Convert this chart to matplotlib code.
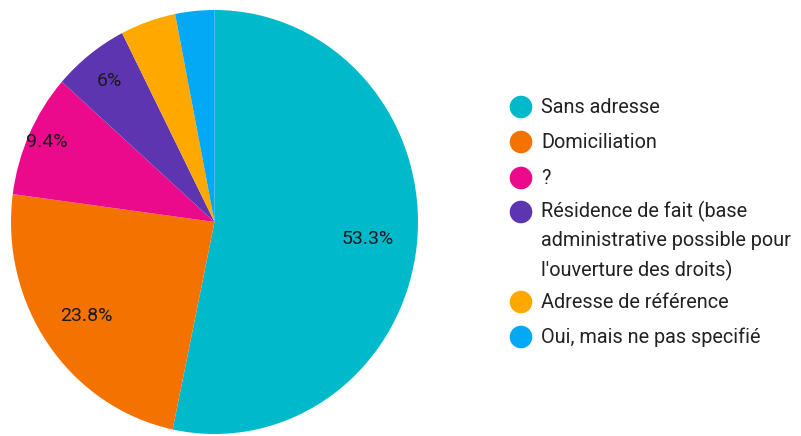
import numpy as np
import matplotlib
matplotlib.use("Agg")
import matplotlib.pyplot as plt

categories = ["Sans adresse", "Domiciliation", "?",
              "Résidence de fait (base\nadministrative possible pour\nl'ouverture des droits)",
              "Adresse de référence", "Oui, mais ne pas specifié"]
values = [53.3, 23.8, 9.4, 6.0, 4.4, 3.1]
colors = ["#00b9cb", "#f47200", "#ec0a8c", "#5e35b1", "#ffa800", "#03a9f4"]

W, H = 801, 436
fig = plt.figure(figsize=(W / 100, H / 100), dpi=100)
plt.rcParams['font.family'] = ['Roboto', 'DejaVu Sans']

# pie axes (pixel box)
cx, cy, rx, ry = 214.5, 222, 203.5, 212
ax = fig.add_axes([(cx - rx) / W, (H - cy - ry) / H, 2 * rx / W, 2 * ry / H])
wedges, _ = ax.pie(values, colors=colors, startangle=90, counterclock=False,
                   radius=1.0, wedgeprops=dict(linewidth=0))
ax.set_aspect('auto')
ax.set_xlim(-1, 1)
ax.set_ylim(-1, 1)
ax.axis('off')

label_r = [0.755, 0.77, 0.905, 0.84]
for i, (w, v) in enumerate(zip(wedges, values)):
    if v < 5:
        continue
    ang = np.deg2rad((w.theta1 + w.theta2) / 2)
    r = label_r[i]
    txt = f"{v:g}%"
    ax.text(r * np.cos(ang), r * np.sin(ang), txt, ha='center', va='center',
            fontsize=14, color='#1a1a1a')

# legend overlay
lg = fig.add_axes([0, 0, 1, 1])
lg.set_xlim(0, W)
lg.set_ylim(H, 0)
lg.axis('off')
row_y = [107, 142, 178, 241, 302, 337]
for cat, col, y in zip(categories, colors, row_y):
    nlines = cat.count("\n") + 1
    y_first = y - (nlines - 1) * 29 / 2
    lg.scatter([521], [y_first], s=265, color=col, edgecolors='none')
    lg.text(541, y, cat, ha='left', va='center', fontsize=14.3,
            color='#222222', linespacing=1.6)

fig.savefig("out.png", dpi=100)
